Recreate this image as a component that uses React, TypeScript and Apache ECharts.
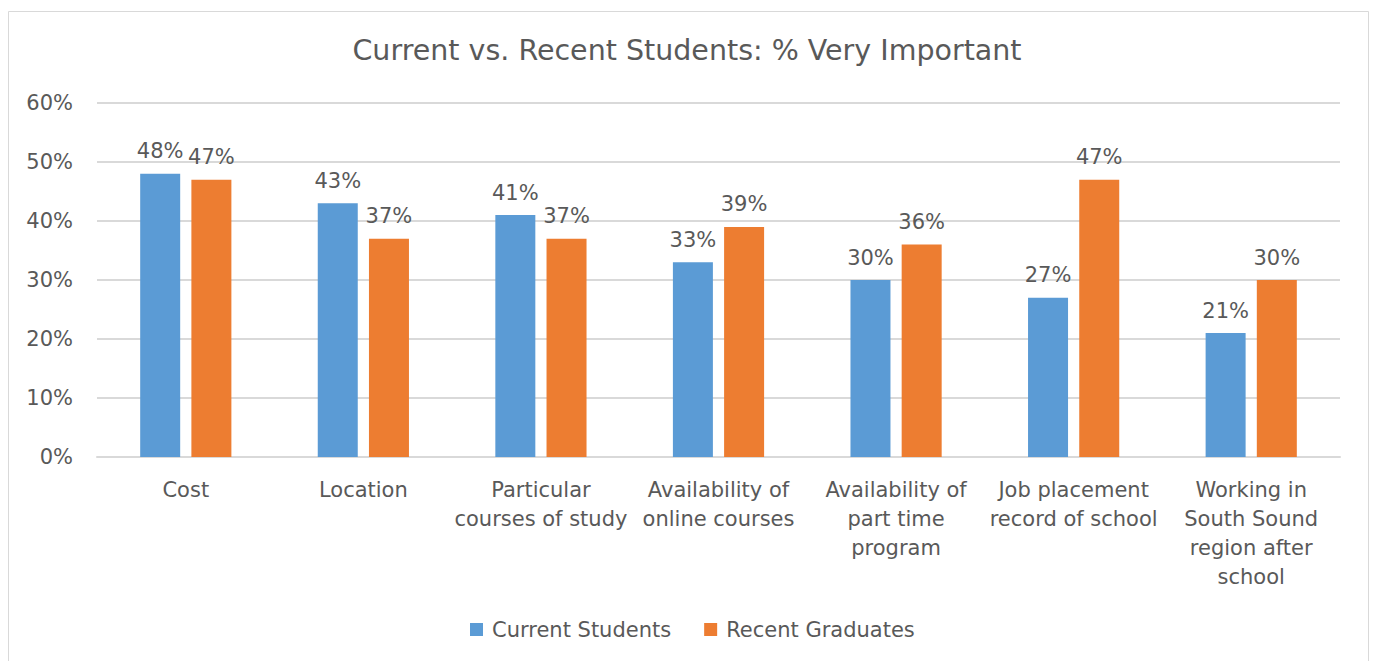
import React, { useEffect, useRef } from "react";
import * as echarts from "echarts";

const categories = [
  "Cost",
  "Location",
  "Particular\ncourses of study",
  "Availability of\nonline courses",
  "Availability of\npart time\nprogram",
  "Job placement\nrecord of school",
  "Working in\nSouth Sound\nregion after\nschool",
];
const currentStudents = [48, 43, 41, 33, 30, 27, 21];
const recentGraduates = [47, 37, 37, 39, 36, 47, 30];
const yTicks = [0, 10, 20, 30, 40, 50, 60];

const FONT = "DejaVu Sans";
const TXT = "#595959";

export default function App() {
  const ref = useRef<HTMLDivElement>(null);
  useEffect(() => {
    const chart = echarts.init(ref.current!, undefined, { renderer: "svg" });
    const labelStyle = {
      show: true,
      position: "top",
      distance: 12,
      formatter: "{c}%",
      fontFamily: FONT,
      fontSize: 21,
      color: TXT,
    };
    chart.setOption({
      animation: false,
      backgroundColor: "#ffffff",
      title: {
        text: "Current vs. Recent Students: % Very Important",
        left: "center",
        top: 31,
        textStyle: { fontFamily: FONT, fontSize: 28.5, fontWeight: "normal", color: TXT },
      },
      graphic: [
        {
          type: "rect",
          shape: { x: 8.5, y: 11.5, width: 1360, height: 700 },
          style: { fill: "none", stroke: "#d9d9d9", lineWidth: 1 },
          silent: true,
        },
      ],
      legend: {
        bottom: 16,
        left: 465,
        itemWidth: 13,
        itemHeight: 13,
        itemGap: 33,
        icon: "rect",
        textStyle: { fontFamily: FONT, fontSize: 21, color: TXT, padding: [0, 0, 0, 4] },
        data: ["Current Students", "Recent Graduates"],
      },
      grid: { left: 97, right: 34, top: 103, bottom: 204, containLabel: false },
      xAxis: {
        type: "category",
        data: categories,
        axisLine: { lineStyle: { color: "#d9d9d9", width: 2 } },
        axisTick: { show: false },
        axisLabel: {
          interval: 0,
          fontFamily: FONT,
          fontSize: 21,
          color: TXT,
          lineHeight: 29,
          margin: 18,
        },
      },
      yAxis: {
        type: "value",
        min: yTicks[0],
        max: yTicks[yTicks.length - 1],
        interval: 10,
        axisLine: { show: false },
        axisTick: { show: false },
        splitLine: { lineStyle: { color: "#d9d9d9", width: 2 } },
        axisLabel: {
          formatter: (v: number) => v + "%",
          fontFamily: FONT,
          fontSize: 21,
          color: TXT,
          margin: 24,
        },
      },
      series: [
        {
          name: "Current Students",
          type: "bar",
          data: currentStudents,
          barWidth: 40,
          barGap: "28%",
          itemStyle: { color: "#5B9BD5" },
          label: labelStyle,
        },
        {
          name: "Recent Graduates",
          type: "bar",
          data: recentGraduates,
          barWidth: 40,
          itemStyle: { color: "#ED7D31" },
          label: labelStyle,
        },
      ],
    });
    return () => chart.dispose();
  }, []);
  return (
    <div
      ref={ref}
      style={{ position: "absolute", left: 0, top: 0, width: 1374, height: 661 }}
    />
  );
}
